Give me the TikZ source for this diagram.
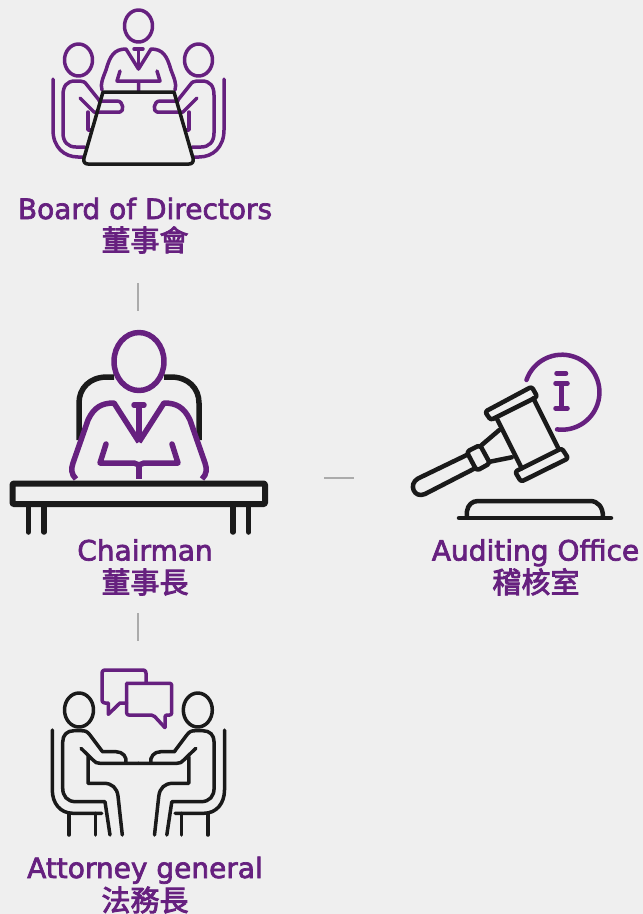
\documentclass[tikz,border=0pt]{standalone}
\usepackage{fontspec}
\setmainfont[FakeBold=2.5]{DejaVu Sans}
\newfontfamily\cjk[FakeBold=3]{Noto Sans CJK TC}
\definecolor{pagebg}{HTML}{EFEFEF}
\definecolor{orgpurple}{HTML}{66207F}
\definecolor{orgblack}{HTML}{1A1A1A}
\definecolor{orggray}{HTML}{ABABAB}
\tikzset{
  purpleline/.style={draw=orgpurple, line width=#1, line cap=round, line join=round},
  blackline/.style={draw=orgblack, line width=#1, line cap=round, line join=round},
  sepline/.style={draw=orggray, line width=2.5pt},
  enlabel/.style={text=orgpurple, anchor=base, inner sep=0pt, font=\fontsize{28}{30}\selectfont},
  zhlabel/.style={text=orgpurple, anchor=base, inner sep=0pt, font=\fontsize{29}{30}\selectfont\cjk},
}
\begin{document}
\begin{tikzpicture}[x=1pt,y=-1pt]
\fill[pagebg] (0,0) rectangle (643,914);
\useasboundingbox (0,0) rectangle (643,914);

% Board of Directors
\draw[purpleline=3.5pt] (138.5,26) ellipse [x radius=14, y radius=16];
\draw[purpleline=3.5pt] (102,90) .. controls (100,84) and (103,78) .. (106,70) .. controls (110,56) and (114,49) .. (126,49) -- (138.5,69) -- (151,49) .. controls (163,49) and (167,56) .. (171,70) .. controls (174,78) and (177,84) .. (175,90);
\draw[purpleline=3.5pt] (134,49) -- (143,49) (138.5,49) -- (138.5,68);
\draw[purpleline=3.5pt] (120,71) -- (117,81) -- (160,81) -- (157,71) (138.5,81) -- (138.5,92);
\foreach \m/\o in {1/0,-1/277}{
  \begin{scope}[shift={(\o,0)},xscale=\m]
    \draw[purpleline=3.5pt] (78.5,60) ellipse [x radius=14, y radius=16];
    \draw[purpleline=3.5pt] (99,100) -- (87,85) .. controls (85,82) and (83,81) .. (80,81) -- (75,81) .. controls (67,81) and (63,86) .. (63,95) -- (63,133) .. controls (63,142) and (68,147) .. (76,147) -- (85,147);
    \draw[purpleline=3.5pt] (80,98) -- (94,112) -- (120,112) .. controls (124,112) and (124,101) .. (117,101) -- (99,101);
    \draw[purpleline=3.5pt] (88,112) -- (88,130) -- (91,130);
    \draw[purpleline=3.5pt] (53,79) -- (53,130) .. controls (53,147) and (64,157) .. (78,157) -- (84,157);
  \end{scope}
}
\draw[blackline=3.5pt] (103,92) -- (174,92) -- (193,158) .. controls (194,162) and (192,164) .. (189,164) -- (88,164) .. controls (85,164) and (83,162) .. (84,158) -- cycle;

\node[enlabel] (boardEn) at (145,219) {Board of Directors};
\node[zhlabel] (boardZh) at (145,251) {董事會};

\coordinate (boardSep) at (138,283);
\coordinate (chairTop) at (138,311);
\draw[sepline] (boardSep) -- (chairTop);

% Chairman
\draw[purpleline=5.5pt] (139,361.5) ellipse [x radius=25, y radius=29];
\foreach \m/\o in {1/0,-1/278}{
  \begin{scope}[shift={(\o,0)},xscale=\m]
    \draw[blackline=5.5pt, line cap=butt] (114,377) -- (107,377) .. controls (90,377) and (79,388) .. (79,403) -- (79,440);
    \draw[purpleline=5.5pt, line cap=butt] (76,479) .. controls (71,474) and (71,469) .. (73,463) -- (88,420) .. controls (94,407) and (102,403) .. (114,403) -- (139,442);
    \draw[purpleline=5.5pt] (106,444) -- (100,463) -- (134,463) -- (139,465);
  \end{scope}
}
\draw[purpleline=5.5pt] (134,405) -- (144,405);
\draw[purpleline=5.5pt] (139,405) -- (139,435);
\draw[purpleline=5.5pt, line cap=butt] (139,465) -- (139,479);
\draw[blackline=6pt, rounded corners=1pt] (12.5,483.5) rectangle (265,504);
\foreach \x in {28.3,44,233,248.7}{
  \draw[blackline=5.5pt] (\x,507) -- (\x,532);
}

\node[enlabel] (chairEn) at (145,560.5) {Chairman};
\node[zhlabel] (chairZh) at (145,593) {董事長};

\coordinate (chairSep) at (324,478);
\coordinate (auditSep) at (354,478);
\draw[sepline] (chairSep) -- (auditSep);

% Auditing Office
\draw[purpleline=4.5pt] (526.5,380) arc [start angle=199, end angle=457.5, radius=37.5];
\draw[purpleline=4.5pt] (556.5,373.5) -- (566,373.5);
\draw[purpleline=4.5pt] (555.5,383.5) -- (567.5,383.5) (561.7,383.5) -- (561.7,408.5) (555.5,408.5) -- (567.5,408.5);
\draw[blackline=4.5pt, rounded corners=2.5pt] (485,411.7) -- (531.7,386.7) -- (537.3,396.7) -- (490.7,420) -- cycle;
\draw[blackline=4.5pt, rounded corners=2.5pt] (515,471.7) -- (561.7,448.3) -- (568.3,458.3) -- (521,481.7) -- cycle;
\draw[blackline=4.5pt] (496.7,418.3) -- (521.7,468.3) (533.3,398.3) -- (558.3,448.3);
\draw[blackline=4.5pt, rounded corners=3pt] (466.7,451.7) -- (480,445) -- (490,463.3) -- (476.7,470.7) -- cycle;
\draw[blackline=4.5pt] (466.7,455) -- (418,478.5) .. controls (408,484) and (414,499) .. (425,494) -- (475,468.3);
\draw[blackline=4.5pt] (481.7,445) -- (499.3,430) (490,461.7) -- (511.7,457.3);
\draw[blackline=4.5pt] (466.7,517) -- (467,511) .. controls (468,505) and (472,501) .. (478,501) -- (590,501) .. controls (598,501) and (603,507) .. (603,517);
\draw[blackline=4.5pt] (459,518) -- (611,518);

\node[enlabel] (auditEn) at (535.5,560.5) {Auditing Office};
\node[zhlabel] (auditZh) at (536,593) {稽核室};

\coordinate (chairSepB) at (138,613);
\coordinate (attorneyTop) at (138,641);
\draw[sepline] (chairSepB) -- (attorneyTop);

% Attorney general
\draw[purpleline=3.5pt] (146,682) -- (146,673) .. controls (146,671) and (145,670) .. (143,670) -- (105,670) .. controls (103,670) and (102,671) .. (102,673) -- (102,700) .. controls (102,702) and (103,703) .. (105,703) -- (108.3,703) -- (108.3,714.3) -- (120,703) -- (126.7,703);
\draw[purpleline=3.5pt, rounded corners=2pt] (126.7,683.3) -- (171.7,683.3) -- (171.7,715) -- (165,715) -- (165,727.7);
\draw[purpleline=3.5pt, rounded corners=2pt] (165,727.7) -- (153.3,715) -- (126.7,715) -- (126.7,683.3);
\foreach \m/\o in {1/0,-1/276.8}{
  \begin{scope}[shift={(\o,0)},xscale=\m]
    \draw[blackline=3.5pt] (79,710) ellipse [x radius=14.5, y radius=17];
    \draw[blackline=3.5pt] (102,751) -- (90,735) .. controls (87,731) and (85,730.7) .. (81,730.7) -- (74,730.7) .. controls (67,730.7) and (62.7,735) .. (62.7,742) -- (62.7,788) .. controls (62.7,796) and (67,801.7) .. (76,801.7) -- (105,801.7) -- (110,835);
    \draw[blackline=3.5pt] (81,748.3) -- (93,760) .. controls (95,762.5) and (97,763.3) .. (100,763.3) -- (138.4,763.3);
    \draw[blackline=3.5pt] (102,751.7) -- (116,751.7) .. controls (123,751.7) and (127,757) .. (126,763);
    \draw[blackline=3.5pt] (88,756.7) -- (88,783.3) -- (104,783.3) .. controls (112,783.3) and (117,788) .. (118,796) -- (122.3,835);
    \draw[blackline=3.5pt] (52.3,730) -- (52.3,790) .. controls (52.3,803) and (60,813.3) .. (73,813.3) -- (101.7,813.3);
    \draw[blackline=3.5pt] (69,813.3) -- (69,835) (95.3,813.3) -- (95.3,835);
  \end{scope}
}

\node[enlabel] (attorneyEn) at (145,878) {Attorney general};
\node[zhlabel] (attorneyZh) at (145,911) {法務長};

\end{tikzpicture}
\end{document}
